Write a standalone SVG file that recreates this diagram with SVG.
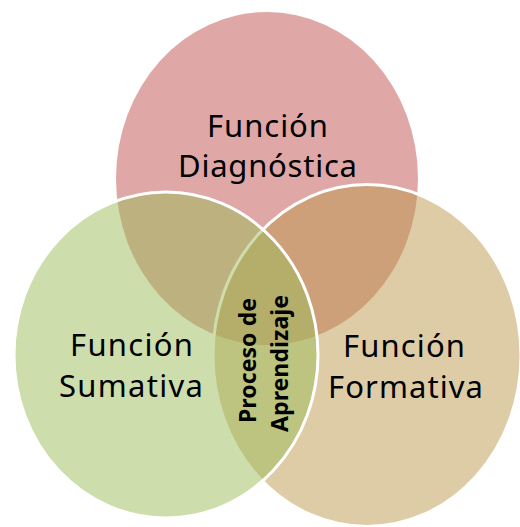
<svg xmlns="http://www.w3.org/2000/svg" width="520" height="527" viewBox="0 0 520 527">
  <style>
    .lbl { font-family: "Noto Sans", "Open Sans", sans-serif; font-size: 31px; fill: #000; text-anchor: middle; }
    .vlbl { font-family: "Noto Sans", "Open Sans", sans-serif; font-size: 23px; font-weight: bold; fill: #000; text-anchor: middle; }
    .circ { fill-opacity: 0.5; }
    .edge { stroke: #fff; stroke-width: 3; }
  </style>
  <rect width="520" height="527" fill="#fff"/>
  <g id="diagnostica">
    <ellipse class="circ" cx="267" cy="178.5" rx="151" ry="166.5" fill="#C0504D"/>
  </g>
  <g id="formativa">
    <ellipse class="circ edge" cx="367" cy="355.5" rx="154" ry="171" fill="#BC9A4E"/>
  </g>
  <g id="sumativa">
    <ellipse class="circ edge" cx="166" cy="355" rx="152" ry="163" fill="#9BBB59"/>
  </g>
  <g id="connectors"/>
  <g id="labels">
    <text class="lbl" x="267.5" y="137" textLength="121">Función</text>
    <text class="lbl" x="267.5" y="177" textLength="179">Diagnóstica</text>
    <text class="lbl" x="131.5" y="356" textLength="123">Función</text>
    <text class="lbl" x="131" y="397" textLength="144">Sumativa</text>
    <text class="lbl" x="404" y="357" textLength="122">Función</text>
    <text class="lbl" x="405.5" y="398" textLength="155">Formativa</text>
  </g>
  <g id="proceso">
    <text class="vlbl" transform="translate(256,360.5) rotate(-90)" textLength="125">Proceso de</text>
    <text class="vlbl" transform="translate(288,363.5) rotate(-90)" textLength="137">Aprendizaje</text>
  </g>
</svg>
